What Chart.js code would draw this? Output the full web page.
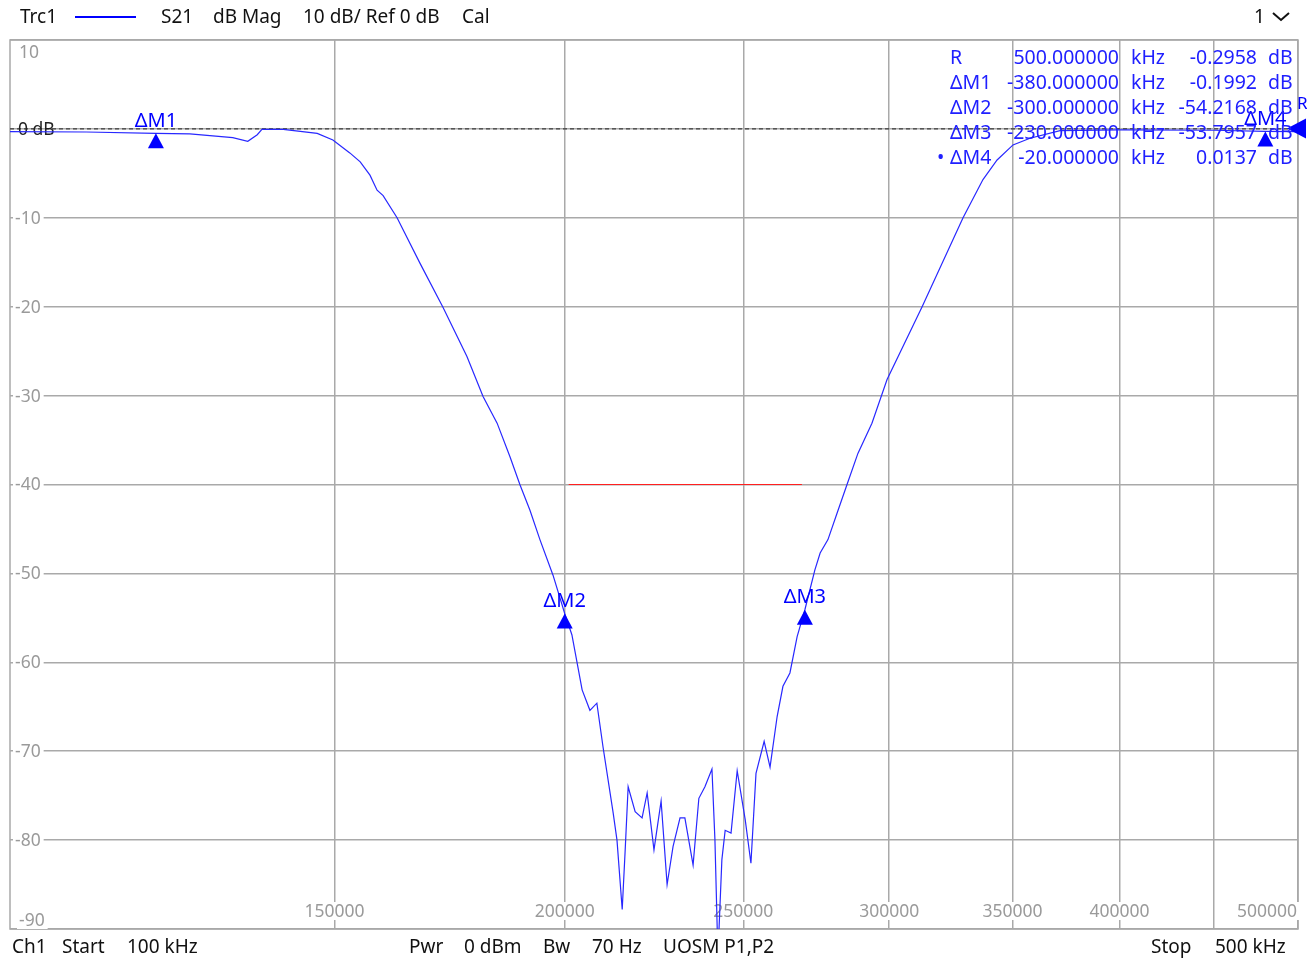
<!DOCTYPE html>
<html lang="en">
<head>
<meta charset="utf-8">
<script src="https://cdn.jsdelivr.net/npm/chart.js@4.4.1/dist/chart.umd.min.js"></script>
<title>Trc1 S21 dB Mag</title>
<style>
  body { margin: 0; background: #fff; font-family: "Noto Sans", sans-serif; }
  #wrap { position: relative; width: 1307px; height: 960px; overflow: hidden; }
  #c { position: absolute; left: 0; top: 0; }
  .t { position: absolute; white-space: pre; line-height: 1; font-size: 19px; color: #111; }
  .m { position: absolute; white-space: pre; line-height: 1; font-size: 19.5px; color: #2020ff; }
</style>
</head>
<body>
<div id="wrap">
  <canvas id="c" width="1307" height="960"></canvas>

  <!-- header -->
  <div class="t" style="left:20px;top:7px">Trc1</div>
  <div style="position:absolute;left:75px;top:16px;width:61px;height:2px;background:#0000ff"></div>
  <div class="t" style="left:161px;top:7px">S21</div>
  <div class="t" style="left:213px;top:7px">dB Mag</div>
  <div class="t" style="left:303px;top:7px">10 dB/ Ref 0 dB</div>
  <div class="t" style="left:462px;top:7px">Cal</div>
  <div class="t" style="left:1254px;top:7px">1</div>
  <svg style="position:absolute;left:1271px;top:11px" width="20" height="12">
    <polyline points="2,2 10,9 18,2" fill="none" stroke="#111" stroke-width="2"/>
  </svg>

  <!-- footer -->
  <div class="t" style="left:12px;top:937px">Ch1</div>
  <div class="t" style="left:62px;top:937px">Start</div>
  <div class="t" style="left:127px;top:937px">100 kHz</div>
  <div class="t" style="left:409px;top:937px">Pwr</div>
  <div class="t" style="left:464px;top:937px">0 dBm</div>
  <div class="t" style="left:543px;top:937px">Bw</div>
  <div class="t" style="left:592px;top:937px">70 Hz</div>
  <div class="t" style="left:663px;top:937px">UOSM P1,P2</div>
  <div class="t" style="left:1151px;top:937px">Stop</div>
  <div class="t" style="left:1215px;top:937px">500 kHz</div>

  <div id="mtable"></div>
</div>

<script>
// trace S21, frequency in Hz, magnitude in dB
const freqHz = [
  100000, 110000, 120000, 125200, 132100, 134600, 136200, 137000, 140700, 146800,
  149700, 152900, 154900, 156800, 158200, 159400, 162200, 166900, 171800, 177000,
  180600, 183800, 186800, 189100, 191500, 193900, 197100, 200000, 201800, 204400,
  206400, 208200, 209800, 212500, 213500, 214900, 215700, 216500, 218400, 220300,
  221700, 223600, 225600, 227300, 229000, 231000, 232400, 234800, 236500, 238300,
  240400, 241300, 242200, 243400, 244400, 246200, 248100, 250600, 252400, 254000,
  256600, 258500, 260800, 262700, 265000, 267400, 270000, 273400, 275200, 277900,
  281100, 284600, 288500, 293600, 299200, 312600, 329000, 337300, 343300, 350200,
  357700, 371400, 400000, 450000, 480000, 500000
];
const s21dB = [
  -0.30, -0.35, -0.50, -0.55, -0.98, -1.40, -0.65, -0.05, -0.05, -0.50,
  -1.24, -2.70, -3.70, -5.20, -6.90, -7.50, -10.0, -15.1, -20.1, -25.6,
  -30.1, -33.1, -36.9, -40.0, -42.9, -46.2, -50.2, -54.51, -56.9, -63.1,
  -65.4, -64.6, -69.5, -77.0, -80.0, -87.8, -81.1, -74.0, -76.8, -77.5,
  -74.7, -81.1, -75.6, -85.0, -80.7, -77.5, -77.5, -82.8, -75.3, -74.0,
  -72.0, -80.0, -93.0, -82.2, -78.9, -79.2, -72.2, -77.7, -82.6, -72.5,
  -68.9, -71.8, -66.1, -62.7, -61.2, -57.1, -54.09, -49.6, -47.7, -46.2,
  -43.2, -40.0, -36.5, -33.1, -28.2, -20.0, -10.0, -5.7, -3.5, -1.8,
  -1.05, -0.20, -0.10, -0.15, -0.28, -0.30
];

// limit line
const limitFreqHz = [201000, 269000];
const limitDB = [-40, -40];

// markers: R is absolute, the others are deltas to R
const markerNames = ['R', '\u0394M1', '\u0394M2', '\u0394M3', '\u0394M4'];
const markerStimKHz = [500, -380, -300, -230, -20];
const markerRespDB = [-0.2958, -0.1992, -54.2168, -53.7957, 0.0137];

// axes
const xTicks = [150000, 200000, 250000, 300000, 350000, 400000, 450000, 500000];
const xTickLabels = ['150000', '200000', '250000', '300000', '350000', '400000', '', '500000'];
const yTicks = [10, 0, -10, -20, -30, -40, -50, -60, -70, -80, -90];

const gridColor = '#a9a9a9';
const traceColor = '#2828ff';
const markBlue = '#0000ff';

// absolute marker positions
const refF = markerStimKHz[0] * 1000, refV = markerRespDB[0];
const markerPts = markerNames.map((n, i) => i === 0
  ? { name: n, x: refF, y: refV }
  : { name: n, x: refF + markerStimKHz[i] * 1000, y: refV + markerRespDB[i] });

// marker readout table
const tbl = document.getElementById('mtable');
markerNames.forEach((n, i) => {
  const top = 47 + i * 25;
  const stim = markerStimKHz[i].toFixed(6);
  const resp = markerRespDB[i].toFixed(4);
  tbl.insertAdjacentHTML('beforeend',
    (i === 4 ? `<div class="m" style="left:937px;top:${top}px">\u2022</div>` : '') +
    `<div class="m" style="left:950px;top:${top}px">${n}</div>` +
    `<div class="m" style="right:188px;top:${top}px">${stim}</div>` +
    `<div class="m" style="left:1131px;top:${top}px">kHz</div>` +
    `<div class="m" style="right:50px;top:${top}px">${resp}</div>` +
    `<div class="m" style="left:1268px;top:${top}px">dB</div>`);
});

const vnaOverlay = {
  id: 'vnaOverlay',
  beforeDatasetsDraw(chart) {
    const { ctx, chartArea: a, scales: { x, y } } = chart;
    ctx.save();
    ctx.strokeStyle = gridColor;
    ctx.lineWidth = 1.5;
    ctx.strokeRect(a.left, a.top, a.right - a.left, a.bottom - a.top);

    // y labels sit inside the plot, on the gridlines
    ctx.font = '17.5px "Noto Sans"';
    ctx.textBaseline = 'middle';
    ctx.textAlign = 'left';
    yTicks.forEach(v => {
      let py = y.getPixelForValue(v);
      if (v === 10) py += 12;
      if (v === -90) py -= 9;
      const txt = v === 0 ? '0 dB' : String(v);
      const w = ctx.measureText(txt).width;
      const lx = v === 0 ? a.left + 8 : (v > 0 || v === -90 ? a.left + 9 : a.left + 5);
      if (v !== 0) {
        ctx.fillStyle = '#fff';
        ctx.fillRect(lx - 2, py - 9, w + 5, 18);
      }
      ctx.fillStyle = v === 0 ? '#222' : '#9a9a9a';
      ctx.fillText(txt, lx, py + 1);
    });

    // x labels along the bottom edge
    const ly = a.bottom - 18;
    xTicks.forEach((v, i) => {
      const txt = xTickLabels[i];
      if (!txt) return;
      const px = x.getPixelForValue(v);
      const w = ctx.measureText(txt).width;
      const last = v === x.max;
      const left = last ? px - w - 1 : px - w / 2;
      ctx.fillStyle = '#fff';
      ctx.fillRect(left - 2, ly - 9, w + 4, 18);
      ctx.fillStyle = '#9a9a9a';
      ctx.fillText(txt, left, ly + 1);
    });
    ctx.restore();
  },
  afterDatasetsDraw(chart) {
    const { ctx, scales: { x, y } } = chart;
    ctx.save();
    ctx.fillStyle = markBlue;
    ctx.textBaseline = 'middle';
    markerPts.forEach((m, i) => {
      const px = x.getPixelForValue(m.x);
      const py = y.getPixelForValue(m.y);
      ctx.beginPath();
      if (i === 0) {
        // reference marker: points left at the right edge
        ctx.moveTo(px - 11, py - 3);
        ctx.lineTo(px + 8, py - 13);
        ctx.lineTo(px + 8, py + 7);
      } else {
        ctx.moveTo(px, py);
        ctx.lineTo(px - 8, py + 15);
        ctx.lineTo(px + 8, py + 15);
      }
      ctx.closePath();
      ctx.fill();
      if (i === 0) {
        ctx.font = '17px "Noto Sans"';
        ctx.textAlign = 'left';
        ctx.fillText(m.name, px - 1, py - 27);
      } else {
        ctx.font = '20px "Noto Sans"';
        ctx.textAlign = 'center';
        ctx.fillText(m.name, px, py - 12);
      }
    });
    ctx.restore();
  }
};

new Chart(document.getElementById('c'), {
  type: 'scatter',
  data: {
    datasets: [
      {
        data: freqHz.map((f, i) => ({ x: f, y: s21dB[i] })),
        showLine: true,
        borderColor: traceColor,
        borderWidth: 1.2,
        pointRadius: 0,
        order: 1
      },
      {
        data: limitFreqHz.map((f, i) => ({ x: f, y: limitDB[i] })),
        showLine: true,
        borderColor: '#ff2020',
        borderWidth: 1,
        pointRadius: 0,
        order: 2
      },
      {
        // reference level line
        data: [{ x: 100000, y: 0 }, { x: 500000, y: 0 }],
        showLine: true,
        borderColor: '#222',
        borderWidth: 1,
        borderDash: [4, 3],
        pointRadius: 0,
        order: 3
      }
    ]
  },
  options: {
    responsive: false,
    animation: false,
    events: [],
    layout: { padding: { left: 10, top: 40, right: 9, bottom: 31 } },
    plugins: { legend: { display: false }, tooltip: { enabled: false } },
    scales: {
      x: {
        type: 'logarithmic',
        min: 100000,
        max: 500000,
        afterBuildTicks: s => { s.ticks = xTicks.map(v => ({ value: v })); },
        ticks: { display: false },
        grid: { color: gridColor, lineWidth: 1.5, drawTicks: false },
        border: { display: false }
      },
      y: {
        min: -90,
        max: 10,
        afterBuildTicks: s => { s.ticks = yTicks.map(v => ({ value: v })); },
        ticks: { display: false },
        grid: { color: gridColor, lineWidth: 1.5, drawTicks: false },
        border: { display: false }
      }
    }
  },
  plugins: [vnaOverlay]
});
</script>
</body>
</html>
